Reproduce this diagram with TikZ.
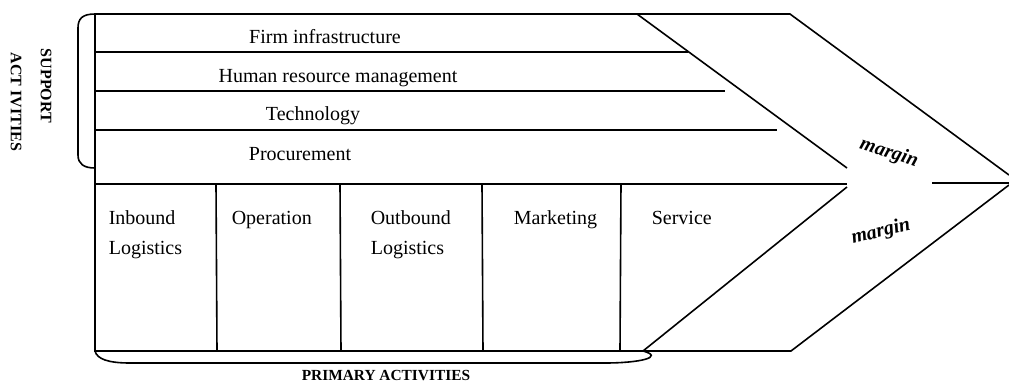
\documentclass[tikz,border=0pt]{standalone}
\usepackage{fontspec}
\setmainfont{Liberation Serif}
\usetikzlibrary{backgrounds}

\begin{document}
\begin{tikzpicture}[x=0.5pt, y=-0.5pt, thick, color=black,
  lbl/.style={font=\fontsize{10}{15}\selectfont, inner sep=0pt},
  cell/.style={lbl, align=left, anchor=north west},
  side/.style={font=\fontsize{8}{9}\selectfont\bfseries, inner sep=0pt, rotate=-90},
  marg/.style={font=\fontsize{10}{12}\selectfont\bfseries\itshape, inner sep=0pt}]
\useasboundingbox (0,0) rectangle (1009,381);

% outline of the chain
\coordinate (tl) at (95,14);
\coordinate (bl) at (95,351);
\draw (tl) -- (790,14) -- (1009,175);
\draw (tl) -- (bl) -- (791,351) -- (1009,185);
\draw (637,14) -- (847,168);
\draw (847,187) -- (643,351);

% support rows
\draw (95,52) -- (688,52);
\draw (95,91) -- (725,91);
\draw (95,130) -- (777,130);
\draw (95,184) -- (847,184);
\draw (932,183) -- (1009,183);

% primary columns
\draw (216,184) -- (217,351);
\draw (340,184) -- (341,351);
\draw (482,184) -- (483,351);
\draw (621,184) -- (620,351);

% brackets
\draw (tl) .. controls (82,14) and (78,19) .. (78,28) -- (78,155) .. controls (78,164) and (84,168) .. (95,168);
\draw (bl) .. controls (97,359) and (108,363) .. (130,363) -- (605,363) .. controls (640,363) and (665,357) .. (643,351);

% texts
\node[lbl, anchor=base] (firm) at (325,43) {Firm infrastructure};
\node[lbl, anchor=base] (hrm) at (338,82) {Human resource management};
\node[lbl, anchor=base] (tech) at (313,120) {Technology};
\node[lbl, anchor=base] (proc) at (300,160) {Procurement};

\node[cell] (inb) at (108,210) {Inbound\\Logistics};
\node[cell] (oper) at (231,210) {Operation};
\node[cell] (outb) at (370,210) {Outbound\\Logistics};
\node[cell] (mark) at (513,210) {Marketing};
\node[cell] (serv) at (651,210) {Service};

\node[side] (sup) at (46,86) {SUPPORT};
\node[side] (act) at (16,102) {ACT IVITIES};
\node[font=\fontsize{7.7}{9}\selectfont\bfseries, inner sep=0pt, anchor=base] (prim) at (386,380) {PRIMARY ACTIVITIES};

\node[marg, rotate=-18] (m1) at (889,153) {margin};
\node[marg, rotate=14] (m2) at (881,232) {margin};
\end{tikzpicture}
\end{document}
